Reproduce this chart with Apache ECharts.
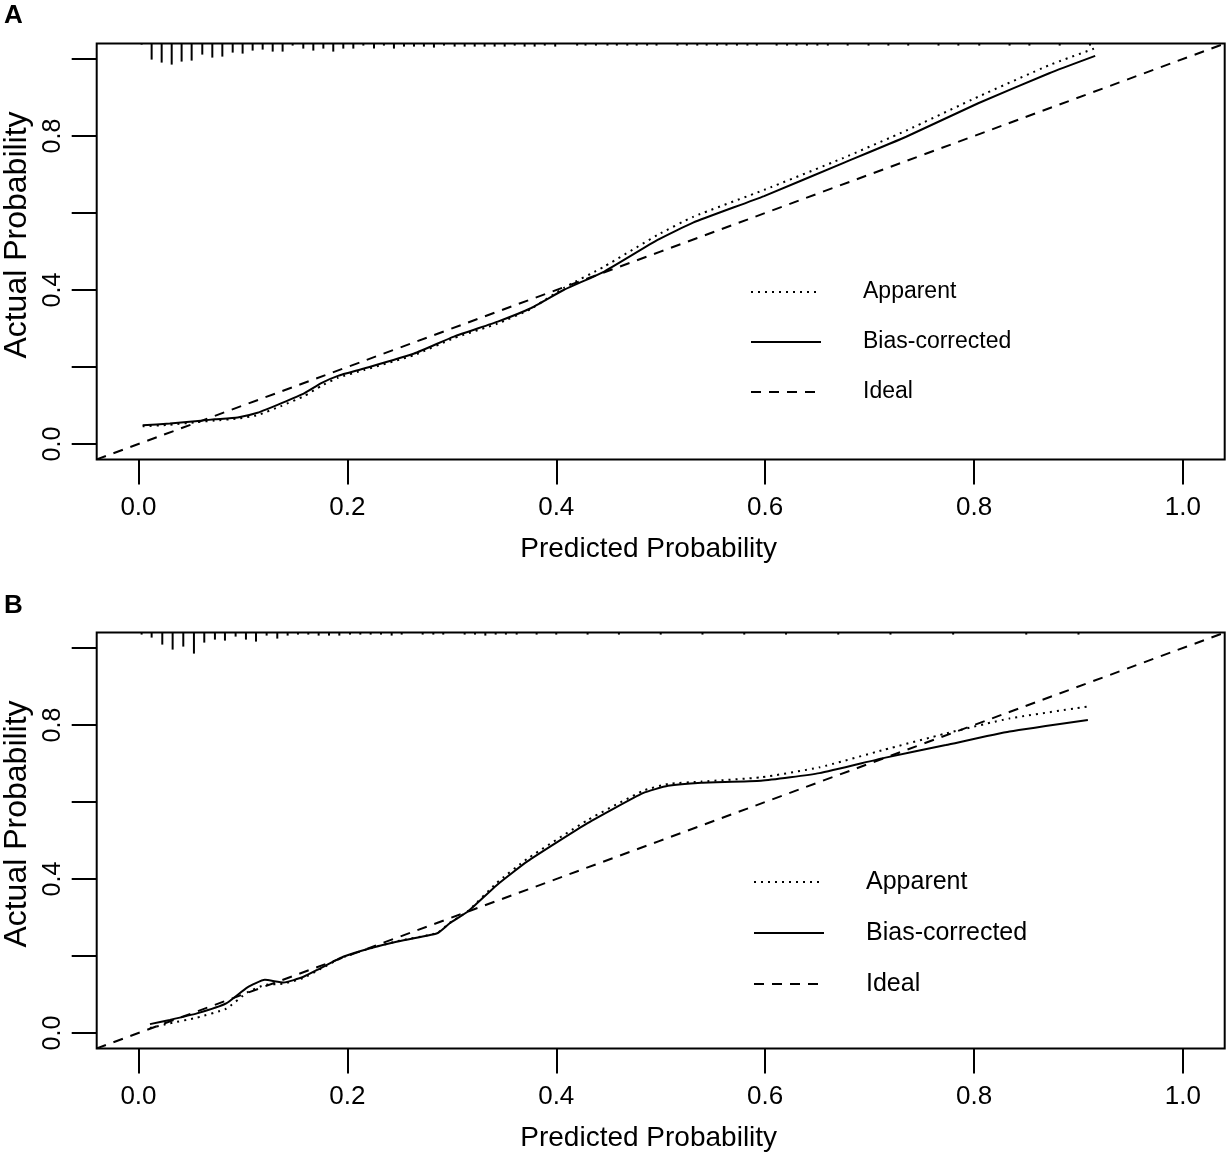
<!DOCTYPE html>
<html>
<head>
<meta charset="utf-8">
<script src="https://cdn.jsdelivr.net/npm/echarts@6/dist/echarts.min.js"></script>
<style>
html,body{margin:0;padding:0;background:#fff;}
#c{width:1227px;height:1159px;}
</style>
</head>
<body>
<div id="c"></div>
<script>
// ---------- Data ----------
var xTicks = [0, 0.2, 0.4, 0.6, 0.8, 1.0];
var yTicks = [0, 0.2, 0.4, 0.6, 0.8, 1.0];
var yTickLabels = [0, 0.4, 0.8];

// Panel A
var predA = [0.004,0.030,0.057,0.073,0.095,0.114,0.137,0.159,0.175,0.191,0.216,0.264,0.302,0.344,0.375,0.407,0.446,0.497,0.531,0.599,0.674,0.735,0.804,0.872,0.916];
var biasA = [0.049,0.053,0.060,0.064,0.069,0.081,0.106,0.132,0.158,0.177,0.196,0.235,0.279,0.318,0.352,0.400,0.448,0.530,0.575,0.644,0.729,0.798,0.885,0.963,1.008];
var apparentA = [0.046,0.050,0.057,0.061,0.066,0.075,0.099,0.125,0.151,0.172,0.192,0.231,0.275,0.313,0.350,0.405,0.461,0.543,0.590,0.660,0.742,0.814,0.902,0.984,1.028];
var rugXA = [0.003,0.0126,0.0222,0.0318,0.0413,0.0509,0.0611,0.0707,0.0803,0.0902,0.0997,0.1093,0.1189,0.1285,0.138,0.1476,0.1578,0.1674,0.177,0.1865,0.1961,0.2057,0.2153,0.2255,0.235,0.2446,0.2542,0.2638,0.2733,0.2829,0.2925,0.3027,0.3123,0.3219,0.3314,0.341,0.3506,0.3602,0.3697,0.3793,0.389,0.399,0.420,0.428,0.438,0.449,0.458,0.468,0.477,0.487,0.496,0.516,0.525,0.535,0.544,0.554,0.563,0.573,0.583,0.592,0.611,0.621,0.630,0.640,0.650,0.660,0.679,0.699,0.718,0.737,0.766,0.785,0.805,0.834,0.853,0.882,0.911];
var rugNA = [1,16,19,21,18,17,11,14,13,9,10,7,6,8,8,2,5,7,5,8,5,5,2,5,2,5,3,3,3,4,2,3,3,3,3,3,3,2,3,3,2,3,2,2,2,2,2,2,2,2,2,2,2,2,2,2,2,2,2,2,2,2,2,2,2,2,2,2,2,2,2,2,2,2,2,2,2];

// Panel B
var predB = [0.011,0.030,0.056,0.084,0.104,0.121,0.139,0.158,0.174,0.196,0.222,0.247,0.286,0.298,0.316,0.343,0.372,0.430,0.483,0.507,0.539,0.596,0.652,0.713,0.773,0.834,0.909];
var biasB = [0.023,0.034,0.051,0.077,0.118,0.138,0.131,0.146,0.168,0.198,0.220,0.237,0.259,0.285,0.317,0.384,0.445,0.545,0.623,0.642,0.650,0.655,0.675,0.714,0.748,0.783,0.813];
var apparentB = [0.013,0.025,0.040,0.063,0.105,0.125,0.128,0.143,0.166,0.197,0.220,0.238,0.260,0.286,0.318,0.390,0.452,0.553,0.629,0.647,0.653,0.664,0.690,0.735,0.778,0.817,0.848];
var rugXB = [0.003,0.0126,0.0228,0.0327,0.0429,0.0531,0.063,0.0732,0.0828,0.093,0.1029,0.1125,0.1227,0.1329,0.1428,0.1527,0.1626,0.1725,0.1824,0.1923,0.2025,0.2124,0.2223,0.2322,0.2424,0.252,0.2721,0.2823,0.2918,0.3123,0.3222,0.3321,0.342,0.3518,0.3621,0.3812,0.400,0.430,0.460,0.500,0.540,0.580,0.620,0.670,0.720,0.780,0.850,0.900];
var rugNB = [2,5,12,17,14,21,10,7,8,4,7,9,3,6,3,2,2,3,3,3,2,2,2,2,3,2,2,2,2,2,2,3,2,2,2,2,2,2,2,2,2,2,2,2,2,2,2,2];

var ideal = [[-0.04,-0.04],[1.04,1.04]];
var seriesNames = ['Apparent','Bias-corrected','Ideal'];

// ---------- Chart ----------
var FONT = 'Liberation Sans, Arial, Helvetica, sans-serif';
var AX_MIN = -0.04, AX_MAX = 1.04;
var rugScale = 1/385;

function zip(xs, ys){ return xs.map(function(x,i){ return [x, ys[i]]; }); }
function fmt(v){ return v.toFixed(1); }

function makeX(idx){
  return {
    gridIndex: idx, type: 'value', min: AX_MIN, max: AX_MAX,
    name: 'Predicted Probability', nameLocation: 'middle', nameGap: 76,
    nameTextStyle: {fontFamily: FONT, fontSize: 28, color: '#000', padding: [0, 24, 0, 0]},
    axisLine: {show: false, onZero: false},
    splitLine: {show: false},
    axisTick: {show: true, inside: false, length: 25, customValues: xTicks, lineStyle: {color: '#000', width: 2}},
    axisLabel: {customValues: xTicks, formatter: fmt, fontFamily: FONT, fontSize: 26, color: '#000', margin: 35}
  };
}
function makeY(idx){
  return {
    gridIndex: idx, type: 'value', min: AX_MIN, max: AX_MAX,
    name: 'Actual Probability', nameLocation: 'middle', nameGap: 62, nameRotate: 90,
    nameTextStyle: {fontFamily: FONT, fontSize: 32, color: '#000', padding: [0, 0, 0, 33]},
    axisLine: {show: false, onZero: false},
    splitLine: {show: false},
    axisTick: {show: true, inside: false, length: 25, customValues: yTicks, lineStyle: {color: '#000', width: 2}},
    axisLabel: {customValues: yTickLabels, formatter: fmt, rotate: 90, fontFamily: FONT, fontSize: 25, color: '#000', margin: 31}
  };
}
function rugSeries(idx, xs, ns){
  return {
    type: 'custom', xAxisIndex: idx, yAxisIndex: idx, silent: true,
    data: zip(xs, ns),
    encode: {x: 0, y: -1},
    renderItem: function(params, api){
      var x = api.value(0), n = api.value(1);
      var p1 = api.coord([x, AX_MAX]);
      var p2 = api.coord([x, AX_MAX - n*rugScale]);
      return {type: 'line', shape: {x1: p1[0], y1: p1[1], x2: p2[0], y2: p2[1]},
              style: {stroke: '#000', lineWidth: 2}};
    }
  };
}
function lineSeries(idx, name, data, dash){
  return {
    type: 'line', name: name, xAxisIndex: idx, yAxisIndex: idx,
    data: data, symbol: 'none', smooth: 0.15,
    silent: true, animation: false,
    lineStyle: {color: '#000', width: 2, type: dash},
    itemStyle: {color: '#000'}
  };
}
function legend(left, top, fs, gap){
  return {
    data: seriesNames, orient: 'vertical', left: left, top: top,
    itemWidth: 70, itemHeight: 14, itemGap: gap, padding: 0,
    selectedMode: false,
    itemStyle: {color: 'rgba(0,0,0,0)', borderWidth: 0},
    textStyle: {fontFamily: FONT, fontSize: fs, color: '#000', lineHeight: 30, padding: [4,0,0,37]}
  };
}
function grid(top){
  return {left: 96.7, width: 1128, top: top, height: 415.8, show: true,
          borderColor: '#000', borderWidth: 2, backgroundColor: 'transparent',
          containLabel: false, outerBoundsMode: 'none'};
}

var option = {
  animation: false,
  backgroundColor: '#fff',
  title: [
    {text: 'A', left: 4, top: 3, padding: 0, textStyle: {fontFamily: FONT, fontSize: 26, fontWeight: 'bold', color: '#000'}},
    {text: 'B', left: 4, top: 593, padding: 0, textStyle: {fontFamily: FONT, fontSize: 26, fontWeight: 'bold', color: '#000'}}
  ],
  grid: [grid(43.6), grid(632.6)],
  xAxis: [makeX(0), makeX(1)],
  yAxis: [makeY(0), makeY(1)],
  legend: [legend(750, 275, 23, 16), legend(753, 865, 25, 17)],
  series: [
    rugSeries(0, rugXA, rugNA),
    lineSeries(0, 'Apparent', zip(predA, apparentA), [2, 5]),
    lineSeries(0, 'Bias-corrected', zip(predA, biasA), 'solid'),
    lineSeries(0, 'Ideal', ideal, [10, 8]),
    rugSeries(1, rugXB, rugNB),
    lineSeries(1, 'Apparent', zip(predB, apparentB), [2, 5]),
    lineSeries(1, 'Bias-corrected', zip(predB, biasB), 'solid'),
    lineSeries(1, 'Ideal', ideal, [10, 8])
  ]
};
var chart = echarts.init(document.getElementById('c'), null, {renderer: 'canvas'});
chart.setOption(option);
</script>
</body>
</html>
